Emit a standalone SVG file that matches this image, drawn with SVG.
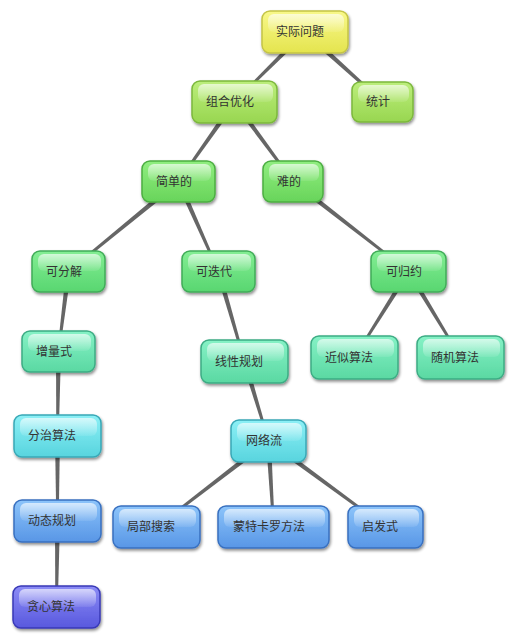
<svg xmlns="http://www.w3.org/2000/svg" width="514" height="639" viewBox="0 0 514 639">
<defs>
<linearGradient id="gY" x1="0" y1="0" x2="0" y2="1"><stop offset="0" stop-color="#f8f88a"/><stop offset="1" stop-color="#e4e44e"/></linearGradient>
<linearGradient id="gL" x1="0" y1="0" x2="0" y2="1"><stop offset="0" stop-color="#bcee7c"/><stop offset="1" stop-color="#98d650"/></linearGradient>
<linearGradient id="gG" x1="0" y1="0" x2="0" y2="1"><stop offset="0" stop-color="#90ee80"/><stop offset="1" stop-color="#68d45a"/></linearGradient>
<linearGradient id="gG2" x1="0" y1="0" x2="0" y2="1"><stop offset="0" stop-color="#84ee94"/><stop offset="1" stop-color="#58d670"/></linearGradient>
<linearGradient id="gT" x1="0" y1="0" x2="0" y2="1"><stop offset="0" stop-color="#86f2c6"/><stop offset="1" stop-color="#5ad8a2"/></linearGradient>
<linearGradient id="gC" x1="0" y1="0" x2="0" y2="1"><stop offset="0" stop-color="#8cf0f6"/><stop offset="1" stop-color="#58d4de"/></linearGradient>
<linearGradient id="gB" x1="0" y1="0" x2="0" y2="1"><stop offset="0" stop-color="#8cc4fa"/><stop offset="1" stop-color="#5896e6"/></linearGradient>
<linearGradient id="gP" x1="0" y1="0" x2="0" y2="1"><stop offset="0" stop-color="#8c8cf6"/><stop offset="1" stop-color="#5858de"/></linearGradient>
<linearGradient id="gH" x1="0" y1="0" x2="0" y2="1"><stop offset="0" stop-color="#ffffff" stop-opacity="0.65"/><stop offset="1" stop-color="#ffffff" stop-opacity="0.08"/></linearGradient>
<filter id="sh" x="-20%" y="-20%" width="140%" height="150%"><feGaussianBlur in="SourceAlpha" stdDeviation="1.6"/><feOffset dx="1" dy="2" result="b"/><feComponentTransfer><feFuncA type="linear" slope="0.45"/></feComponentTransfer><feMerge><feMergeNode/><feMergeNode in="SourceGraphic"/></feMerge></filter>
</defs>
<style>
.n rect.b{stroke-width:1.5;filter:url(#sh)}
.n rect.h{fill:url(#gH)}
.n text{font-family:"Noto Sans CJK SC","Noto Sans",sans-serif;font-size:12px;fill:#333}
.y rect.b{fill:url(#gY);stroke:#c4c446}
.l rect.b{fill:url(#gL);stroke:#7cb83c}
.g rect.b{fill:url(#gG);stroke:#4cae42}
.g2 rect.b{fill:url(#gG2);stroke:#40ac58}
.t rect.b{fill:url(#gT);stroke:#3cac84}
.c rect.b{fill:url(#gC);stroke:#38a8b6}
.bl rect.b{fill:url(#gB);stroke:#3870c0}
.p rect.b{fill:url(#gP);stroke:#3838b6}
#edges polygon{fill:#666}
</style>
<rect width="514" height="639" fill="#fff"/>
<g id="edges">
<polygon points="303.2,30.2 233.8,101.3 235.2,102.7 306.8,33.8"/>
<polygon points="303.3,33.9 381.7,102.9 383.3,101.1 306.7,30.1"/>
<polygon points="232.5,100.6 177.5,180.8 179.5,182.2 236.5,103.4"/>
<polygon points="232.5,103.5 292.0,182.2 294.0,180.8 236.5,100.5"/>
<polygon points="176.9,179.6 67.7,270.6 69.3,272.4 180.1,183.4"/>
<polygon points="176.2,182.5 217.4,272.0 219.6,271.0 180.8,180.5"/>
<polygon points="291.5,183.5 407.8,272.4 409.2,270.6 294.5,179.5"/>
<polygon points="66.0,271.2 57.3,351.4 59.7,351.6 71.0,271.8"/>
<polygon points="216.1,272.2 243.3,361.8 245.7,361.2 220.9,270.8"/>
<polygon points="406.4,270.2 353.5,356.9 355.5,358.1 410.6,272.8"/>
<polygon points="406.4,272.8 459.5,358.1 461.5,356.9 410.6,270.2"/>
<polygon points="56.0,351.5 56.3,436 58.7,436 61.0,351.5"/>
<polygon points="242.1,362.2 267.4,441.3 269.6,440.7 246.9,360.8"/>
<polygon points="55,436 56.3,521 58.7,521 60,436"/>
<polygon points="267.0,439.0 155.8,526.0 157.2,528.0 270.0,443.0"/>
<polygon points="266.0,441.1 272.3,527.1 274.7,526.9 271.0,440.9"/>
<polygon points="267.0,443.0 384.8,528.0 386.2,526.0 270.0,439.0"/>
<polygon points="55,521 55.3,607 57.7,607 60,521"/>
</g>
<g id="n1" class="n y"><rect class="b" x="262" y="11" width="86" height="42" rx="8"/><rect class="h" x="268" y="14" width="76" height="18" rx="6"/><text x="276" y="36">实际问题</text></g>
<g id="n2" class="n l"><rect class="b" x="192" y="81" width="85" height="42" rx="8"/><rect class="h" x="198" y="84" width="75" height="18" rx="6"/><text x="206" y="106">组合优化</text></g>
<g id="n3" class="n l"><rect class="b" x="352" y="82" width="61" height="40" rx="8"/><rect class="h" x="358" y="85" width="51" height="17" rx="6"/><text x="366" y="106">统计</text></g>
<g id="n4" class="n g"><rect class="b" x="142" y="161" width="73" height="41" rx="8"/><rect class="h" x="148" y="164" width="63" height="17" rx="6"/><text x="156" y="186">简单的</text></g>
<g id="n5" class="n g"><rect class="b" x="263" y="161" width="60" height="41" rx="8"/><rect class="h" x="269" y="164" width="50" height="17" rx="6"/><text x="277" y="186">难的</text></g>
<g id="n6" class="n g2"><rect class="b" x="32" y="251" width="73" height="41" rx="8"/><rect class="h" x="38" y="254" width="63" height="17" rx="6"/><text x="46" y="276">可分解</text></g>
<g id="n7" class="n g2"><rect class="b" x="182" y="251" width="73" height="41" rx="8"/><rect class="h" x="188" y="254" width="63" height="17" rx="6"/><text x="196" y="276">可迭代</text></g>
<g id="n8" class="n g2"><rect class="b" x="371" y="251" width="75" height="41" rx="8"/><rect class="h" x="377" y="254" width="65" height="17" rx="6"/><text x="386" y="276">可归约</text></g>
<g id="n9" class="n t"><rect class="b" x="22" y="331" width="73" height="41" rx="8"/><rect class="h" x="28" y="334" width="63" height="17" rx="6"/><text x="36" y="356">增量式</text></g>
<g id="n10" class="n t"><rect class="b" x="201" y="340" width="87" height="43" rx="8"/><rect class="h" x="207" y="343" width="77" height="18" rx="6"/><text x="215" y="366">线性规划</text></g>
<g id="n11" class="n t"><rect class="b" x="311" y="336" width="87" height="43" rx="8"/><rect class="h" x="317" y="339" width="77" height="18" rx="6"/><text x="325" y="362">近似算法</text></g>
<g id="n12" class="n t"><rect class="b" x="417" y="336" width="87" height="43" rx="8"/><rect class="h" x="423" y="339" width="77" height="18" rx="6"/><text x="431" y="362">随机算法</text></g>
<g id="n13" class="n c"><rect class="b" x="14" y="415" width="87" height="42" rx="8"/><rect class="h" x="20" y="418" width="77" height="18" rx="6"/><text x="28" y="440">分治算法</text></g>
<g id="n14" class="n c"><rect class="b" x="231" y="420" width="75" height="42" rx="8"/><rect class="h" x="237" y="423" width="65" height="18" rx="6"/><text x="246" y="445">网络流</text></g>
<g id="n15" class="n bl"><rect class="b" x="14" y="500" width="87" height="42" rx="8"/><rect class="h" x="20" y="503" width="77" height="18" rx="6"/><text x="28" y="525">动态规划</text></g>
<g id="n16" class="n bl"><rect class="b" x="113" y="506" width="87" height="42" rx="8"/><rect class="h" x="119" y="509" width="77" height="18" rx="6"/><text x="127" y="531">局部搜索</text></g>
<g id="n17" class="n bl"><rect class="b" x="218" y="506" width="111" height="42" rx="8"/><rect class="h" x="224" y="509" width="101" height="18" rx="6"/><text x="233" y="531">蒙特卡罗方法</text></g>
<g id="n18" class="n bl"><rect class="b" x="348" y="506" width="75" height="42" rx="8"/><rect class="h" x="354" y="509" width="65" height="18" rx="6"/><text x="362" y="531">启发式</text></g>
<g id="n19" class="n p"><rect class="b" x="13" y="586" width="87" height="42" rx="8"/><rect class="h" x="19" y="589" width="77" height="18" rx="6"/><text x="27" y="611">贪心算法</text></g>
</svg>
